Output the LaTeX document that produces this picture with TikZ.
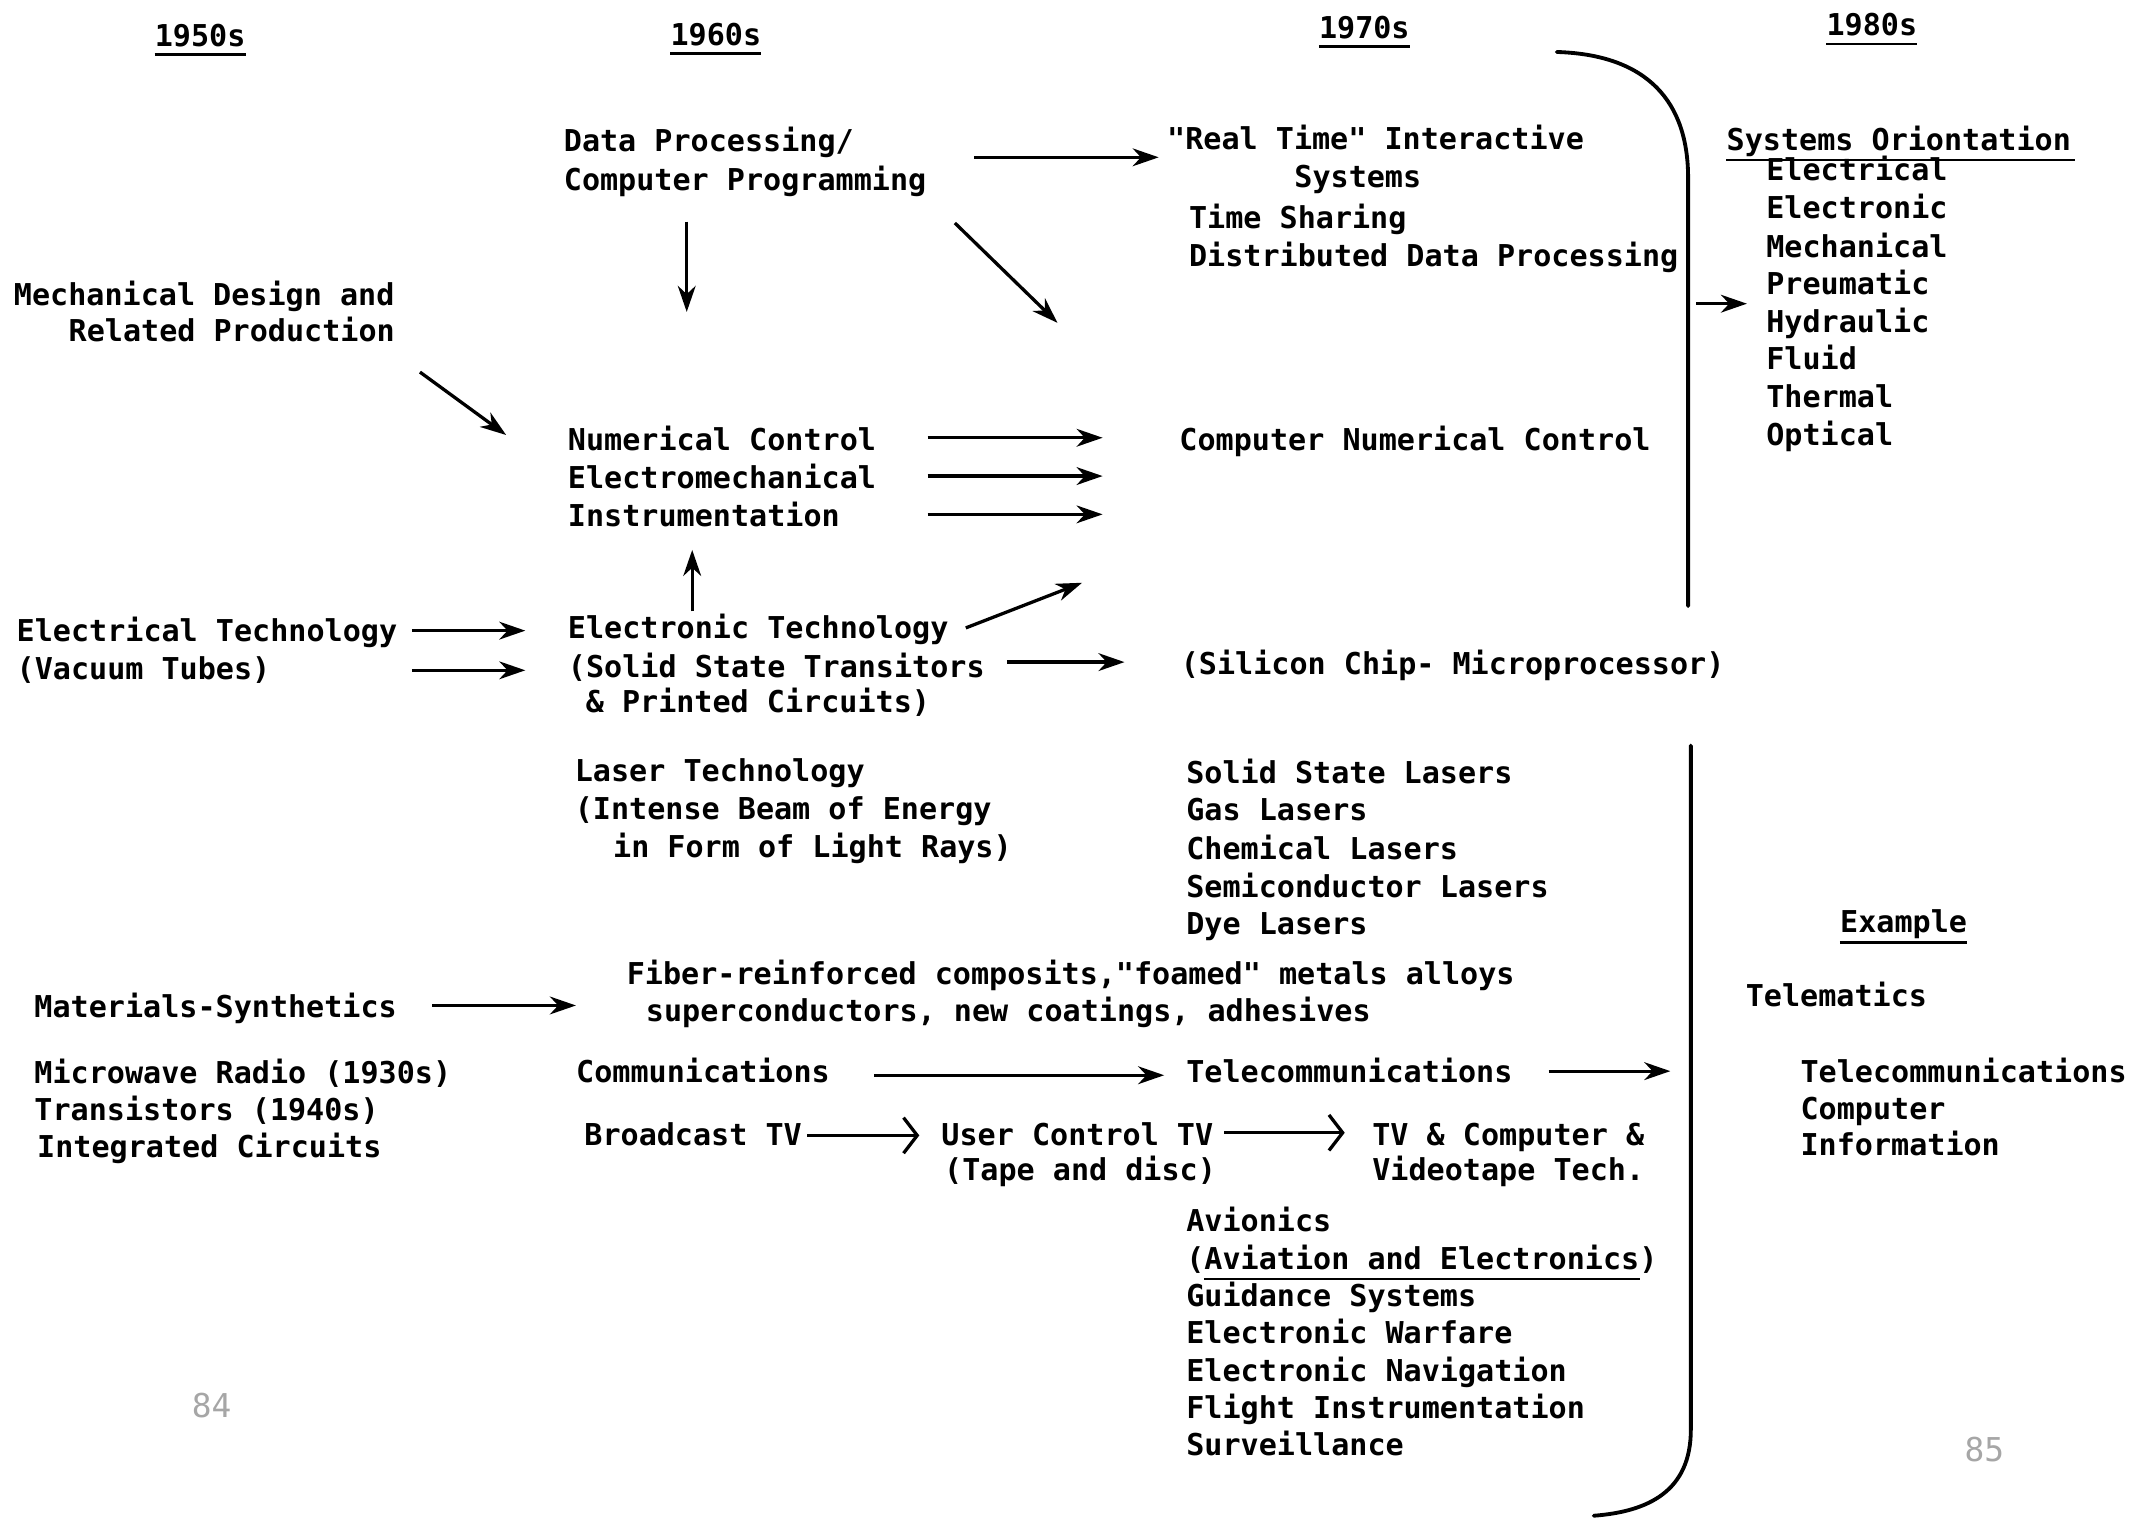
\documentclass[tikz,border=0pt]{standalone}
\usepackage{fontspec}
\newfontfamily\rf{DejaVu Sans Mono}
\usetikzlibrary{arrows.meta}
\begin{document}
\begin{tikzpicture}[x=1pt,y=-1pt,
  lbl/.style={anchor=base west, inner sep=0pt, font=\rf\bfseries\fontsize{22}{26}\selectfont},
  arr/.style={line width=2.4pt, -{Stealth[length=19pt,width=13pt,inset=6pt]}},
  oarr/.style={line width=2.4pt, -{Straight Barb[length=10pt,width=26pt,line width=2.4pt]}},
  ul/.style={line width=1.8pt},
  brk/.style={line width=2.8pt, line cap=round},
  pg/.style={anchor=base west, inner sep=0pt, text=black!35, font=\rf\fontsize{24}{26}\selectfont}]
\useasboundingbox (0,0) rectangle (1568,1110);
% headers
\node[lbl] (h50) at (113,34) {1950s};
\node[lbl] (h60) at (490,33) {1960s};
\node[lbl] (h70) at (964,28) {1970s};
\node[lbl] (h80) at (1335,26) {1980s};
\foreach \h in {h50,h60,h70,h80}
  \draw[ul] ([yshift=-6pt]\h.base west) -- ([yshift=-6pt]\h.base east);
% 1950s column
\node[lbl] (mech1) at (10,223) {Mechanical Design and};
\node[lbl] (mech2) at (50,250) {Related Production};
\node[lbl] (elec1) at (12,469) {Electrical Technology};
\node[lbl] (elec2) at (12,497) {(Vacuum Tubes)};
\node[lbl] (mat) at (25,744) {Materials-Synthetics};
\node[lbl] (mw1) at (25,792) {Microwave Radio (1930s)};
\node[lbl] (mw2) at (25,819) {Transistors (1940s)};
\node[lbl] (mw3) at (27,846) {Integrated Circuits};
% 1960s column
\node[lbl] (dp1) at (412,111) {Data Processing/};
\node[lbl] (dp2) at (412,139) {Computer Programming};
\node[lbl] (nc1) at (415,329) {Numerical Control};
\node[lbl] (nc2) at (415,357) {Electromechanical};
\node[lbl] (nc3) at (415,385) {Instrumentation};
\node[lbl] (et1) at (415,467) {Electronic Technology};
\node[lbl] (et2) at (415,495) {(Solid State Transitors};
\node[lbl] (et3) at (428,521) {\& Printed Circuits)};
\node[lbl] (lt1) at (420,571) {Laser Technology};
\node[lbl] (lt2) at (420,599) {(Intense Beam of Energy};
\node[lbl] (lt3) at (448,627) {in Form of Light Rays)};
\node[lbl] (fib1) at (458,720) {Fiber-reinforced composits,"foamed" metals alloys};
\node[lbl] (fib2) at (472,747) {superconductors, new coatings, adhesives};
\node[lbl] (com) at (421,791) {Communications};
\node[lbl] (btv) at (427,837) {Broadcast TV};
\node[lbl] (uct1) at (688,837) {User Control TV};
\node[lbl] (uct2) at (690,863) {(Tape and disc)};
\node[lbl] (tvc1) at (1003,837) {TV \& Computer \&};
\node[lbl] (tvc2) at (1003,863) {Videotape Tech.};
% 1970s column
\node[lbl] (rt1) at (853,109) {"Real Time" Interactive};
\node[lbl] (rt2) at (946,137) {Systems};
\node[lbl] (rt3) at (869,167) {Time Sharing};
\node[lbl] (rt4) at (869,195) {Distributed Data Processing};
\node[lbl] (cnc) at (862,329) {Computer Numerical Control};
\node[lbl] (sil) at (863,493) {(Silicon Chip- Microprocessor)};
\node[lbl] (las1) at (867,573) {Solid State Lasers};
\node[lbl] (las2) at (867,600) {Gas Lasers};
\node[lbl] (las3) at (867,628) {Chemical Lasers};
\node[lbl] (las4) at (867,656) {Semiconductor Lasers};
\node[lbl] (las5) at (867,683) {Dye Lasers};
\node[lbl] (tel) at (867,791) {Telecommunications};
\node[lbl] (av1) at (867,900) {Avionics};
\node[lbl] (av2) at (867,928) {(Aviation and Electronics)};
\draw[ul] ([xshift=13pt,yshift=-7pt]av2.base west) -- ([xshift=-13pt,yshift=-7pt]av2.base east);
\node[lbl] (av3) at (867,955) {Guidance Systems};
\node[lbl] (av4) at (867,982) {Electronic Warfare};
\node[lbl] (av5) at (867,1010) {Electronic Navigation};
\node[lbl] (av6) at (867,1037) {Flight Instrumentation};
\node[lbl] (av7) at (867,1064) {Surveillance};
% 1980s column
\node[lbl] (so) at (1262,110) {Systems Oriontation};
\draw[ul] ([yshift=-7pt]so.base west) -- ([xshift=3pt,yshift=-7pt]so.base east);
\node[lbl] (s1) at (1291,132) {Electrical};
\node[lbl] (s2) at (1291,160) {Electronic};
\node[lbl] (s3) at (1291,188) {Mechanical};
\node[lbl] (s4) at (1291,215) {Preumatic};
\node[lbl] (s5) at (1291,243) {Hydraulic};
\node[lbl] (s6) at (1291,270) {Fluid};
\node[lbl] (s7) at (1291,298) {Thermal};
\node[lbl] (s8) at (1291,326) {Optical};
\node[lbl] (ex) at (1345,682) {Example};
\draw[ul] ([yshift=-7pt]ex.base west) -- ([yshift=-7pt]ex.base east);
\node[lbl] (tm) at (1276,736) {Telematics};
\node[lbl] (tc1) at (1316,791) {Telecommunications};
\node[lbl] (tc2) at (1316,818) {Computer};
\node[lbl] (tc3) at (1316,845) {Information};
% page marks
\node[pg] (p84) at (140,1036) {84};
\node[pg] (p85) at (1436,1068) {85};
% bracket
\draw[brk] (1138,38) .. controls (1205,40) and (1234,75) .. (1234,130) -- (1234,443);
\draw[brk] (1236,545) -- (1236,1045) .. controls (1236,1090) and (1205,1105) .. (1165,1108);
% arrow end points
\coordinate (a1s) at (712,115);  \coordinate (a1e) at (847,115);
\coordinate (a2s) at (502,162);  \coordinate (a2e) at (502,228);
\coordinate (a3s) at (698,163);  \coordinate (a3e) at (773,236);
\coordinate (a4s) at (307,272);  \coordinate (a4e) at (370,318);
\coordinate (a5s) at (678,320);  \coordinate (a5e) at (806,320);
\coordinate (a6s) at (678,348);  \coordinate (a6e) at (806,348);
\coordinate (a7s) at (678,376);  \coordinate (a7e) at (806,376);
\coordinate (a8s) at (506,447);  \coordinate (a8e) at (506,402);
\coordinate (a9s) at (706,459);  \coordinate (a9e) at (791,426);
\coordinate (a10s) at (301,461); \coordinate (a10e) at (384,461);
\coordinate (a11s) at (301,490); \coordinate (a11e) at (384,490);
\coordinate (a12s) at (736,484); \coordinate (a12e) at (822,484);
\coordinate (a13s) at (1240,222); \coordinate (a13e) at (1277,222);
\coordinate (a14s) at (316,735); \coordinate (a14e) at (421,735);
\coordinate (a15s) at (639,786); \coordinate (a15e) at (851,786);
\coordinate (a16s) at (1132,783); \coordinate (a16e) at (1221,783);
\coordinate (a17s) at (590,830); \coordinate (a17e) at (672,830);
\coordinate (a18s) at (895,828); \coordinate (a18e) at (983,828);
\foreach \i in {1,...,16} \draw[arr] (a\i s) -- (a\i e);
\draw[oarr] (a17s) -- (a17e);
\draw[oarr] (a18s) -- (a18e);
\end{tikzpicture}
\end{document}
